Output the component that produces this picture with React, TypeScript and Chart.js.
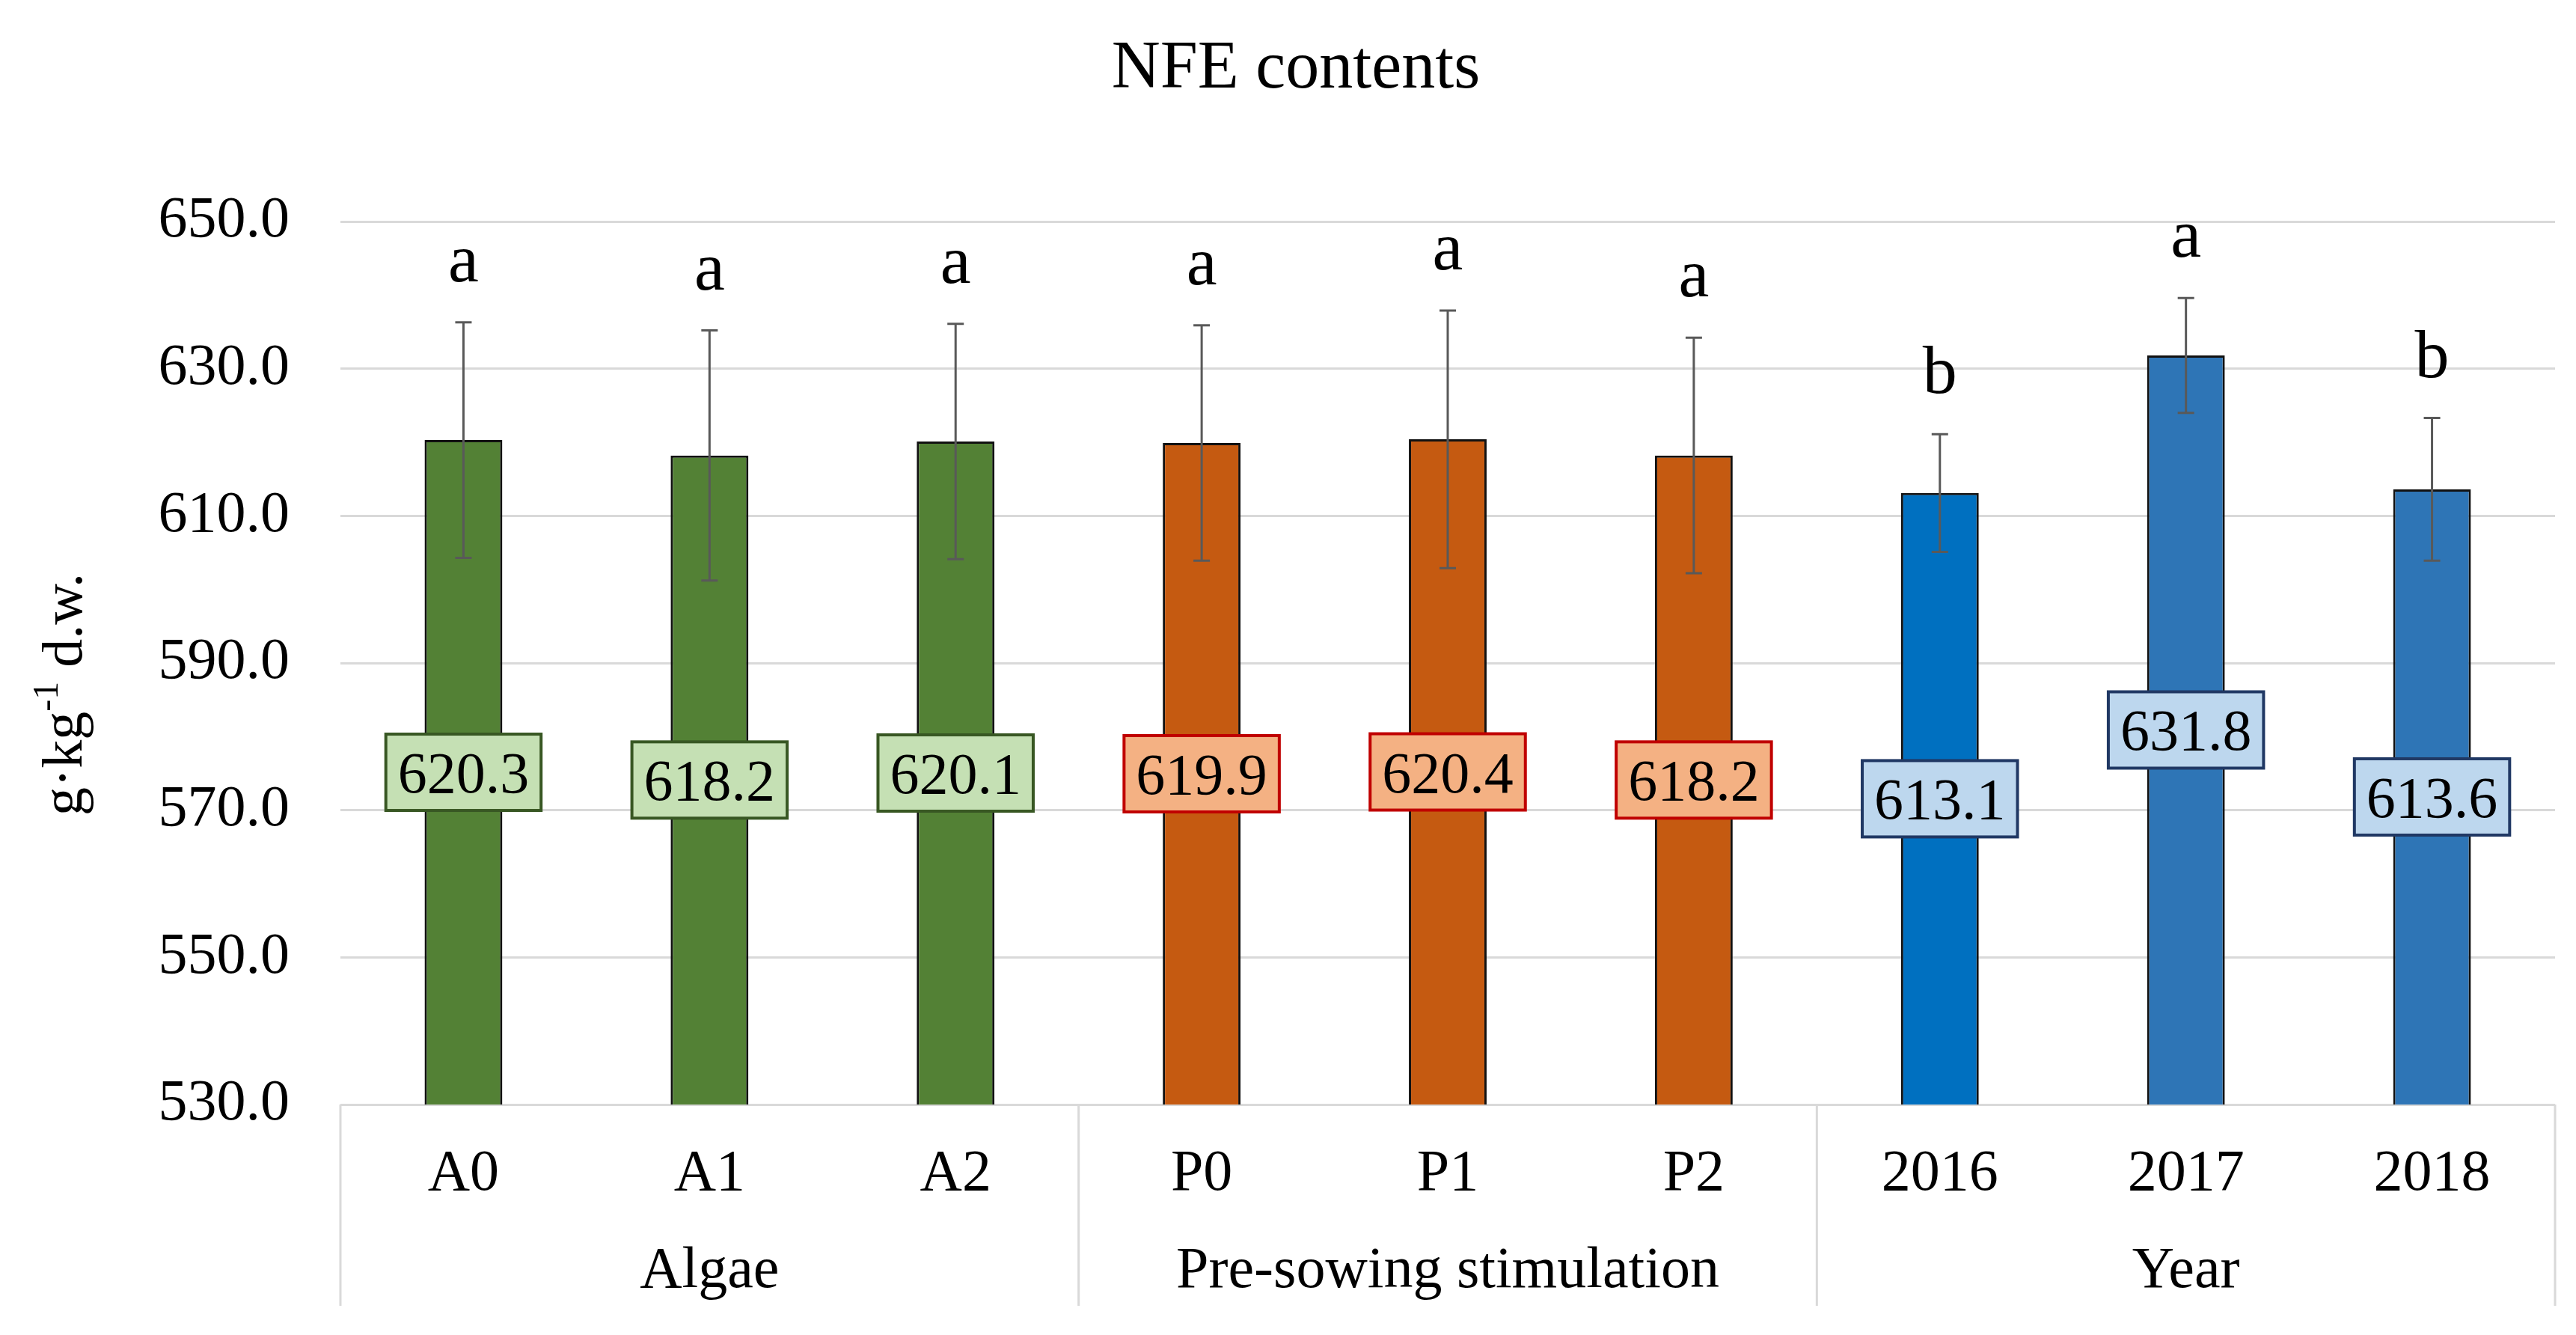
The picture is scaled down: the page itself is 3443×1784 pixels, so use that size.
import { useEffect, useRef } from "react";
import { Chart, registerables } from "chart.js";

Chart.register(...registerables);

const FONT = '"Liberation Serif", "Times New Roman", serif';

const categories = ["A0", "A1", "A2", "P0", "P1", "P2", "2016", "2017", "2018"];
const groups = ["Algae", "Pre-sowing stimulation", "Year"];
const groupSizes = [3, 3, 3];
const values = [620.3, 618.2, 620.1, 619.9, 620.4, 618.2, 613.1, 631.8, 613.6];
const errors = [16.0, 17.0, 16.0, 16.0, 17.5, 16.0, 8.0, 7.8, 9.7];
const letters = ["a", "a", "a", "a", "a", "a", "b", "a", "b"];
const yTicks = [530, 550, 570, 590, 610, 630, 650];

const barColors = ["#538135", "#538135", "#538135", "#C55A11", "#C55A11", "#C55A11", "#0070C0", "#2E75B6", "#2E75B6"];
const labelFills = ["#C5E0B4", "#C5E0B4", "#C5E0B4", "#F4B183", "#F4B183", "#F4B183", "#BDD7EE", "#BDD7EE", "#BDD7EE"];
const labelBorders = ["#385723", "#385723", "#385723", "#C00000", "#C00000", "#C00000", "#203864", "#203864", "#203864"];

const W = 3443;
const H = 1784;

const overlay = {
  id: "overlay",
  afterDatasetsDraw(chart: any) {
    const ctx = chart.ctx;
    const y = chart.scales.y;
    const meta = chart.getDatasetMeta(0);
    ctx.save();
    values.forEach((v, i) => {
      const bar = meta.data[i];
      const cx = bar.x;
      const top = y.getPixelForValue(v + errors[i]);
      const bot = y.getPixelForValue(v - errors[i]);
      ctx.strokeStyle = "#595959";
      ctx.lineWidth = 3;
      ctx.beginPath();
      ctx.moveTo(cx, top);
      ctx.lineTo(cx, bot);
      ctx.moveTo(cx - 11, top);
      ctx.lineTo(cx + 11, top);
      ctx.moveTo(cx - 11, bot);
      ctx.lineTo(cx + 11, bot);
      ctx.stroke();

      ctx.fillStyle = "#000";
      ctx.textAlign = "center";
      ctx.textBaseline = "alphabetic";
      ctx.font = `92px ${FONT}`;
      ctx.fillText(letters[i], cx, top - 55);

      const mid = y.getPixelForValue((v + y.min) / 2);
      ctx.font = `78px ${FONT}`;
      const txt = v.toFixed(1);
      const w = ctx.measureText(txt).width + 32;
      const h = 102;
      ctx.fillStyle = labelFills[i];
      ctx.fillRect(cx - w / 2, mid - h / 2, w, h);
      ctx.strokeStyle = labelBorders[i];
      ctx.lineWidth = 4;
      ctx.strokeRect(cx - w / 2, mid - h / 2, w, h);
      ctx.fillStyle = "#000";
      ctx.fillText(txt, cx, mid + 27);
    });
    ctx.restore();
  },
  afterDraw(chart: any) {
    const ctx = chart.ctx;
    const x = chart.scales.x;
    const area = chart.chartArea;
    ctx.save();
    // title
    ctx.fillStyle = "#000";
    ctx.textAlign = "center";
    ctx.textBaseline = "alphabetic";
    ctx.font = `90px ${FONT}`;
    ctx.fillText("NFE contents", 1732, 117);

    // category labels
    ctx.font = `78px ${FONT}`;
    categories.forEach((c, i) => {
      ctx.fillText(c, x.getPixelForTick(i), 1590);
    });

    // group labels and separators
    const bounds: number[] = [area.left];
    let start = 0;
    groups.forEach((g, gi) => {
      const end = start + groupSizes[gi] - 1;
      const cx = (x.getPixelForTick(start) + x.getPixelForTick(end)) / 2;
      ctx.fillText(g, cx, 1720);
      const next = end + 1;
      if (next < categories.length) {
        bounds.push((x.getPixelForTick(end) + x.getPixelForTick(next)) / 2);
      }
      start = next;
    });
    bounds.push(area.right);
    ctx.strokeStyle = "#D9D9D9";
    ctx.lineWidth = 3;
    ctx.beginPath();
    bounds.forEach((b) => {
      ctx.moveTo(b, area.bottom);
      ctx.lineTo(b, 1745);
    });
    ctx.stroke();

    // y axis title
    ctx.save();
    ctx.translate(109, 928);
    ctx.rotate(-Math.PI / 2);
    const normal = `76px ${FONT}`;
    const sup = `48px ${FONT}`;
    const parts = [
      { t: "g·kg", f: normal, dy: 0 },
      { t: "-1", f: sup, dy: -32 },
      { t: " d.w.", f: normal, dy: 0 },
    ];
    let total = 0;
    const widths = parts.map((p) => {
      ctx.font = p.f;
      const w = ctx.measureText(p.t).width;
      total += w;
      return w;
    });
    let px = -total / 2;
    ctx.textAlign = "left";
    parts.forEach((p, i) => {
      ctx.font = p.f;
      ctx.fillText(p.t, px, p.dy);
      px += widths[i];
    });
    ctx.restore();
    ctx.restore();
  },
};

export default function App() {
  const ref = useRef<HTMLCanvasElement | null>(null);
  useEffect(() => {
    document.body.style.margin = "0";
    const canvas = ref.current;
    if (!canvas) return;
    const chart = new Chart(canvas, {
      type: "bar",
      data: {
        labels: categories,
        datasets: [
          {
            data: values,
            backgroundColor: barColors,
            borderColor: "#111111",
            borderWidth: 3,
            categoryPercentage: 1,
            barPercentage: 0.316,
          },
        ],
      },
      options: {
        responsive: false,
        animation: false,
        devicePixelRatio: 1,
        layout: { padding: { top: 296, right: W - 3415, bottom: 0, left: 0 } },
        plugins: {
          legend: { display: false },
          tooltip: { enabled: false },
          title: { display: false },
        },
        scales: {
          x: {
            grid: { display: false },
            border: { display: false },
            ticks: { display: false },
            afterFit: (s: any) => {
              s.height = H - 1476;
            },
          },
          y: {
            min: 530,
            max: 650,
            afterBuildTicks: (s: any) => {
              s.ticks = yTicks.map((v) => ({ value: v }));
            },
            afterFit: (s: any) => {
              s.width = 455;
            },
            grid: { color: "#D9D9D9", lineWidth: 3, drawTicks: false },
            border: { display: false },
            ticks: {
              padding: 68,
              color: "#000",
              font: { family: FONT, size: 78 },
              callback: (v: any) => Number(v).toFixed(1),
            },
          },
        },
      },
      plugins: [overlay],
    });
    return () => chart.destroy();
  }, []);
  return <canvas ref={ref} width={W} height={H} style={{ display: "block" }} />;
}
